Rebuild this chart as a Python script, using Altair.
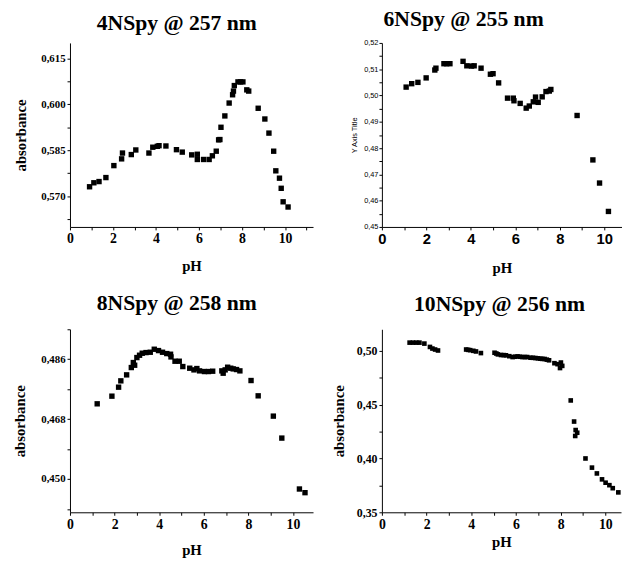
import altair as alt
import pandas as pd

# ---- data ----
pH1 = [0.91, 1.11, 1.35, 1.67, 2.04, 2.40, 2.44, 2.85, 3.06, 3.67, 3.85, 4.06, 4.14, 4.46, 4.95,
       5.22, 5.66, 5.92, 5.92, 6.21, 6.47, 6.62, 6.80, 6.91, 6.97, 7.02, 7.20, 7.40, 7.56, 7.60,
       7.64, 7.81, 7.93, 8.04, 8.22, 8.31, 8.75, 9.06, 9.25, 9.47, 9.57, 9.74, 9.82, 9.91, 10.14]
abs1 = [0.5731, 0.5744, 0.5748, 0.5761, 0.5800, 0.5822, 0.5841, 0.5836, 0.5851, 0.5841, 0.5860,
        0.5863, 0.5865, 0.5864, 0.5852, 0.5844, 0.5835, 0.5837, 0.5820, 0.5820, 0.5820, 0.5832,
        0.5847, 0.5884, 0.5885, 0.5925, 0.5962, 0.6004, 0.6031, 0.6043, 0.6061, 0.6073, 0.6073,
        0.6073, 0.6047, 0.6043, 0.5987, 0.5952, 0.5906, 0.5847, 0.5783, 0.5759, 0.5726, 0.5682,
        0.5665]

pH2 = [1.09, 1.34, 1.62, 1.99, 2.38, 2.43, 2.79, 2.91, 3.06, 3.65, 3.82, 4.03, 4.15, 4.46, 4.88,
       5.00, 5.25, 5.65, 5.91, 5.94, 6.22, 6.49, 6.63, 6.81, 6.91, 7.03, 7.21, 7.38, 7.53, 7.60,
       8.78, 9.49, 9.79, 10.19]
abs2 = [0.5032, 0.5045, 0.5050, 0.5067, 0.5097, 0.5104, 0.5121, 0.5121, 0.5121, 0.5130, 0.5113,
        0.5112, 0.5113, 0.5104, 0.5081, 0.5083, 0.5048, 0.4990, 0.4990, 0.4980, 0.4970, 0.4952,
        0.4960, 0.4976, 0.4994, 0.4974, 0.4995, 0.5015, 0.5017, 0.5023, 0.4924, 0.4755, 0.4667,
        0.4559]

pH3 = [1.22, 1.88, 2.18, 2.28, 2.54, 2.75, 2.84, 2.90, 3.00, 3.12, 3.24, 3.41, 3.60, 3.78, 3.97,
       4.15, 4.34, 4.51, 4.53, 4.71, 4.90, 5.06, 5.37, 5.56, 5.69, 5.81, 6.03, 6.21, 6.40, 6.81,
       6.87, 6.96, 7.07, 7.21, 7.32, 7.47, 7.62, 8.12, 8.44, 9.12, 9.50, 10.29, 10.54]
abs3 = [0.4726, 0.4749, 0.4776, 0.4795, 0.4813, 0.4835, 0.4850, 0.4842, 0.4865, 0.4872, 0.4878,
        0.4880, 0.4881, 0.4890, 0.4886, 0.4881, 0.4877, 0.4875, 0.4867, 0.4854, 0.4854, 0.4838,
        0.4833, 0.4828, 0.4832, 0.4825, 0.4823, 0.4823, 0.4824, 0.4825, 0.4818, 0.4828, 0.4836,
        0.4833, 0.4831, 0.4829, 0.4825, 0.4796, 0.4750, 0.4689, 0.4623, 0.4470, 0.4459]

pH4 = [1.24, 1.39, 1.54, 1.68, 1.90, 2.15, 2.26, 2.38, 2.51, 3.77, 3.86, 3.95, 4.09, 4.21, 4.43,
       5.04, 5.12, 5.19, 5.33, 5.45, 5.55, 5.70, 5.85, 5.96, 6.07, 6.18, 6.29, 6.40, 6.50, 6.65,
       6.76, 6.87, 6.98, 7.09, 7.18, 7.28, 7.38, 7.48, 7.72, 7.86, 7.97, 8.01, 8.07, 8.45, 8.60,
       8.65, 8.67, 8.74, 9.11, 9.40, 9.62, 9.85, 10.01, 10.18, 10.33, 10.58]
abs4 = [0.5076, 0.5076, 0.5076, 0.5076, 0.5067, 0.5036, 0.5021, 0.5012, 0.5003, 0.5012, 0.5009,
        0.5006, 0.5000, 0.4994, 0.4979, 0.4982, 0.4975, 0.4967, 0.4961, 0.4960, 0.4958, 0.4950,
        0.4942, 0.4945, 0.4948, 0.4945, 0.4942, 0.4942, 0.4942, 0.4936, 0.4935, 0.4933, 0.4930,
        0.4927, 0.4925, 0.4924, 0.4918, 0.4912, 0.4885, 0.4876, 0.4840, 0.4891, 0.4860, 0.4539,
        0.4343, 0.4209, 0.4264, 0.4239, 0.4000, 0.3915, 0.3861, 0.3806, 0.3775, 0.3752, 0.3724,
        0.3685]

titles = ["4NSpy @ 257 nm", "6NSpy @ 255 nm", "8NSpy @ 258 nm", "10NSpy @ 256 nm"]

yticks1 = [0.5625, 0.57, 0.5775, 0.585, 0.5925, 0.6, 0.6075, 0.615]
yticks2 = [0.45, 0.455, 0.46, 0.465, 0.47, 0.475, 0.48, 0.485, 0.49, 0.495, 0.5, 0.505, 0.51, 0.515, 0.52]
yticks3 = [0.441, 0.45, 0.459, 0.468, 0.477, 0.486, 0.495]
yticks4 = [0.35, 0.375, 0.4, 0.425, 0.45, 0.475, 0.5]

SERIF = "Liberation Serif"
SANS = "Liberation Sans"


def panel(ph, ab, title, tdx, toff, xdom, ydom, w, h, xticks, yticks, yexpr, ytitle,
          xlab_font, xlab_size, ylab_font, ylab_size, ylab_weight, ytitle_font, ytitle_size,
          ytitle_weight, ytitle_pad, ylab_pad, xtitle_pad, msize):
    df = pd.DataFrame({"pH": ph, "abs": ab})
    return alt.Chart(df).mark_square(size=msize, color="black", opacity=1).encode(
        x=alt.X("pH:Q",
                scale=alt.Scale(domain=xdom, nice=False, zero=False),
                axis=alt.Axis(values=xticks, title="pH", grid=False,
                              labelExpr="datum.value % 2 == 0 ? datum.label : ''",
                              labelFont=xlab_font, labelFontSize=xlab_size, labelFontWeight="bold",
                              titleFont=SERIF, titleFontSize=15, titleFontWeight="bold",
                              titlePadding=xtitle_pad, tickSize=3, labelPadding=2,
                              labelFlush=False)),
        y=alt.Y("abs:Q",
                scale=alt.Scale(domain=ydom, nice=False, zero=False),
                axis=alt.Axis(values=yticks, title=ytitle, labelExpr=yexpr, grid=False,
                              labelFont=ylab_font, labelFontSize=ylab_size,
                              labelFontWeight=ylab_weight,
                              titleFont=ytitle_font, titleFontSize=ytitle_size,
                              titleFontWeight=ytitle_weight, titlePadding=ytitle_pad,
                              tickSize=3, labelPadding=ylab_pad, labelFlush=False)),
    ).properties(
        width=w, height=h,
        title=alt.TitleParams(title, font=SERIF, fontSize=22, fontWeight="bold", color="black",
                              anchor="middle", dx=tdx, offset=toff, baseline="alphabetic"),
    )


p1 = panel(pH1, abs1, titles[0], -15, -9, [0, 11.3], [0.56, 0.62], 247, 187,
           list(range(0, 12)), yticks1,
           "round(datum.value*2000/15) % 2 == 0 ? replace(format(datum.value, '.3f'), '.', ',') : ''",
           "absorbance", SERIF, 14, SERIF, 11, "bold", SERIF, 15, "bold", 12, 2, 13, 30)
p2 = panel(pH2, abs2, titles[1], -39, -9, [0, 10.8], [0.45, 0.52], 244, 187,
           list(range(0, 11)), yticks2,
           "round(datum.value*200) % 2 == 0 ? replace(format(datum.value, '.2f'), '.', ',') : ''",
           "Y Axis Title", SANS, 15, SANS, 7.5, "normal", SANS, 7.5, "normal", 5, 1, 14, 30)
p3 = panel(pH3, abs3, titles[2], -15, -3, [0, 10.9], [0.44, 0.495], 247, 186,
           list(range(0, 11)), yticks3,
           "round(datum.value*1000/9) % 2 == 0 ? replace(format(datum.value, '.3f'), '.', ',') : ''",
           "absorbance", SERIF, 14, SERIF, 11, "bold", SERIF, 15, "bold", 13, 2, 12, 30)
p4 = panel(pH4, abs4, titles[3], -2, -3, [0, 10.7], [0.35, 0.52], 243, 186,
           list(range(0, 11)), yticks4,
           "round(datum.value*40) % 2 == 0 ? replace(format(datum.value, '.2f'), '.', ',') : ''",
           "absorbance", SERIF, 14, SERIF, 12, "bold", SERIF, 15, "bold", 10, 2, 4, 22)

chart = alt.concat(p1, p2, p3, p4, columns=2, spacing={"row": 104, "column": 70},
                   bounds="flush").properties(
    padding={"left": 5, "top": -4, "right": 0, "bottom": 0},
    background="white",
).configure_view(stroke=None).configure_axis(
    grid=False, domainColor="black", tickColor="black", labelColor="black",
    titleColor="black", domainWidth=1, tickWidth=1
)

chart.save("out.html", embed_options={"renderer": "svg", "actions": False})
